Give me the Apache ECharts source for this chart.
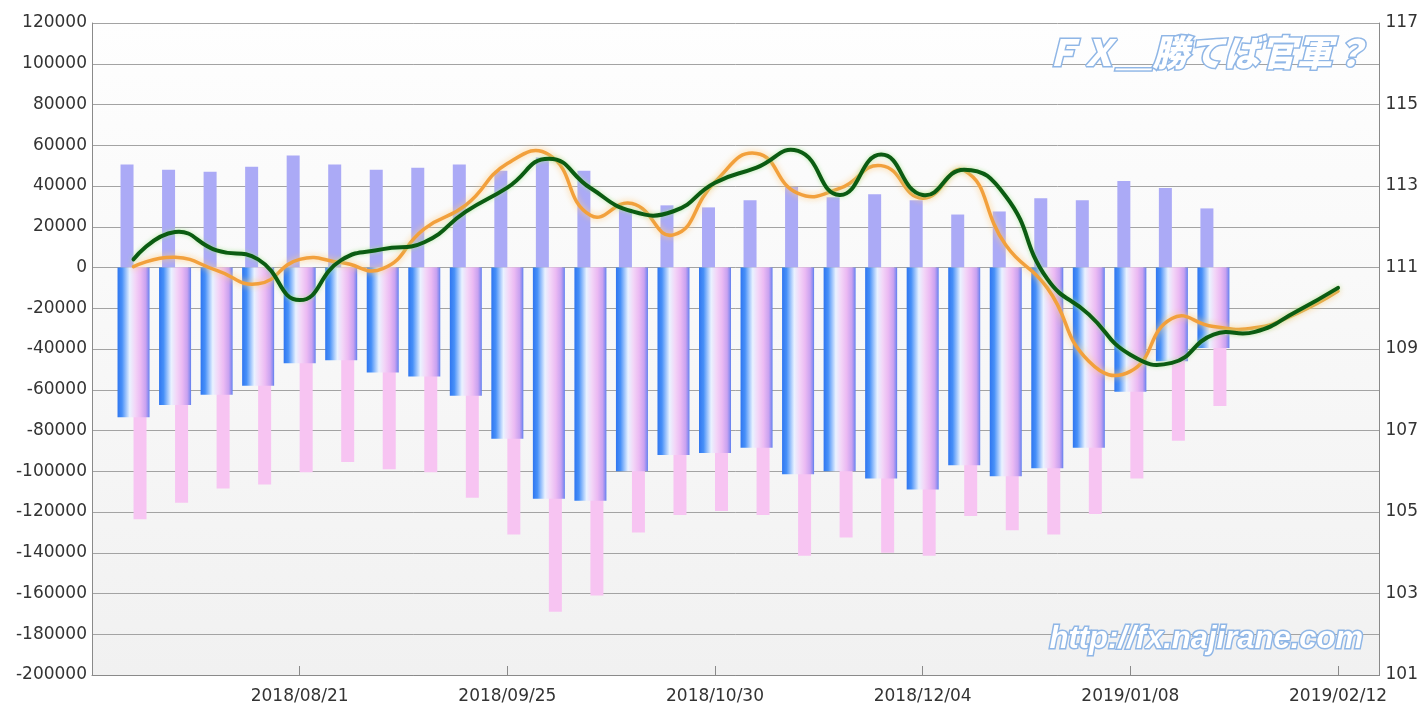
<!DOCTYPE html>
<html><head><meta charset="utf-8">
<script src="https://cdn.jsdelivr.net/npm/echarts@6.0.0/dist/echarts.min.js"></script>
<style>html,body{margin:0;padding:0;background:#fff;}#c{width:1421px;height:706px;}</style>
</head><body><div id="c"></div>
<script>
// ---- data ----
const barDates = ['2018/07/24','2018/07/31','2018/08/07','2018/08/14','2018/08/21','2018/08/28','2018/09/04','2018/09/11','2018/09/18','2018/09/25','2018/10/02','2018/10/09','2018/10/16','2018/10/23','2018/10/30','2018/11/06','2018/11/13','2018/11/20','2018/11/27','2018/12/04','2018/12/11','2018/12/18','2018/12/25','2019/01/01','2019/01/08','2019/01/15','2019/01/22'];
const lineDates = ['2018/07/24','2018/07/31','2018/08/07','2018/08/14','2018/08/21','2018/08/28','2018/09/04','2018/09/11','2018/09/18','2018/09/25','2018/10/02','2018/10/09','2018/10/16','2018/10/23','2018/10/30','2018/11/06','2018/11/13','2018/11/20','2018/11/27','2018/12/04','2018/12/11','2018/12/18','2018/12/25','2019/01/01','2019/01/08','2019/01/15','2019/01/22','2019/01/29','2019/02/05','2019/02/12'];
const longPos  = [50500,48000,47000,49500,55000,50500,48000,49000,50500,47500,54000,47500,28500,30500,29500,33000,39500,34500,36000,33000,26000,27500,34000,33000,42500,39000,29000];
const shortPos = [-123500,-115500,-108500,-106500,-100500,-95500,-99000,-100500,-113000,-131000,-169000,-161000,-130000,-121500,-119500,-121500,-141500,-132500,-140000,-141500,-122000,-129000,-131000,-121000,-103500,-85000,-68000];
const netPos   = [-73500,-67500,-62500,-58000,-47000,-45500,-51500,-53500,-63000,-84000,-113500,-114500,-100000,-92000,-91000,-88500,-101500,-100000,-103500,-109000,-97000,-102500,-98500,-88500,-61000,-46000,-39500];
const priceGreen  = [111.2,111.87,111.42,111.2,110.2,111.18,111.45,111.62,112.37,112.96,113.67,112.95,112.38,112.38,113.08,113.45,113.86,112.78,113.77,112.78,113.4,112.75,110.72,109.85,108.86,108.66,109.35,109.42,109.92,110.5];
const priceOrange = [111.02,111.25,110.93,110.6,111.2,111.12,110.97,111.95,112.53,113.55,113.77,112.28,112.57,111.8,113.1,113.8,112.82,112.94,113.5,112.7,113.38,111.55,110.5,108.7,108.45,109.75,109.55,109.52,109.87,110.42];
const axisStart = '2018/07/17', axisEnd = '2019/02/19';
const leftMin = -200000, leftMax = 120000, leftStep = 20000;
const rightMin = 101, rightMax = 117, rightStep = 2;
const watermark1 = 'ＦＸ＿勝てば官軍？';
const watermark2 = 'http://fx.najirane.com';

function ts(s){const p=s.split('/');return Date.UTC(+p[0],+p[1]-1,+p[2]);}
function fmt(v){const d=new Date(v);const m=d.getUTCMonth()+1, dd=d.getUTCDate();return d.getUTCFullYear()+'/'+(m<10?'0':'')+m+'/'+(dd<10?'0':'')+dd;}
const pair=(dates,vals)=>dates.map((d,i)=>[ts(d),vals[i]]);
const WEEK5 = 35*86400000;
const labelFont = {fontFamily:'DejaVu Sans', fontSize:17, color:'#333'};
const gridColor = '#a3a3a3';

function splineSeries(name, dates, vals, color, width, shColor, shBlur, z){
  return {type:'custom', name, xAxisIndex:0, yAxisIndex:1, z, data:pair(dates,vals), encode:{x:0,y:1}, silent:true,
    renderItem:function(params, api){
      if(params.dataIndex!==0) return null;
      const pts = dates.map((d,i)=>api.coord([ts(d), vals[i]]));
      return {type:'polyline', shape:{points:pts, smooth:0.5},
        style:{fill:'none', stroke:color, lineWidth:width, lineJoin:'round', lineCap:'round', shadowColor:shColor, shadowBlur:shBlur}};
    }};
}

const chart = echarts.init(document.getElementById('c'));
chart.setOption({
  animation:false,
  backgroundColor:'#ffffff',
  grid:{left:92,right:41,top:23,bottom:31,show:true,borderWidth:0,
    backgroundColor:{type:'linear',x:0,y:0,x2:0,y2:1,colorStops:[{offset:0,color:'#fefefe'},{offset:1,color:'#f1f1f1'}]}},
  xAxis:[
    {type:'value',min:ts(axisStart),max:ts(axisEnd),interval:WEEK5,
     axisLine:{show:true,onZero:false,lineStyle:{color:'#8a8a8a'}},
     axisTick:{show:true,inside:true,length:9,lineStyle:{color:'#8a8a8a'}},
     splitLine:{show:false},
     axisLabel:Object.assign({formatter:fmt,margin:13,showMinLabel:false,showMaxLabel:false},labelFont)},
    {type:'value',min:ts(axisStart),max:ts(axisEnd),show:false,splitLine:{show:false}}
  ],
  yAxis:[
    {type:'value',min:leftMin,max:leftMax,interval:leftStep,
     axisLine:{show:true,lineStyle:{color:'#8a8a8a'}},axisTick:{show:false},
     splitLine:{show:true,lineStyle:{color:gridColor,width:1}},
     axisLabel:Object.assign({margin:5,formatter:v=>String(v)},labelFont)},
    {type:'value',min:rightMin,max:rightMax,interval:rightStep,position:'right',
     axisLine:{show:true,lineStyle:{color:'#8a8a8a'}},axisTick:{show:false},
     splitLine:{show:false},
     axisLabel:Object.assign({margin:6},labelFont)}
  ],
  series:[
    {type:'bar',name:'long',xAxisIndex:0,yAxisIndex:0,data:pair(barDates,longPos),barWidth:13,barGap:'0%',z:2,
     itemStyle:{color:'#abaaf6'}},
    {type:'bar',name:'short',xAxisIndex:0,yAxisIndex:0,data:pair(barDates,shortPos),barWidth:13,barGap:'0%',z:2,
     itemStyle:{color:'#f7c4f2'}},
    {type:'bar',name:'net',xAxisIndex:1,yAxisIndex:0,data:pair(barDates,netPos),barWidth:32,z:3,
     itemStyle:{color:{type:'linear',x:0,y:0,x2:1,y2:0,colorStops:[
       {offset:0,color:'#2f76f0'},{offset:0.14,color:'#4790f8'},{offset:0.38,color:'#e9f2ff'},
       {offset:0.55,color:'#f3d5f7'},{offset:0.72,color:'#ebbaf3'},{offset:0.88,color:'#c9a2f0'},
       {offset:0.96,color:'#8b8cf0'},{offset:1,color:'#5a7ff0'}]}}},
    splineSeries('orange', lineDates, priceOrange, '#f2a03c', 3.5, 'rgba(255,205,130,0.95)', 6, 6),
    splineSeries('green', lineDates, priceGreen, '#0b5c12', 4, 'rgba(170,230,150,0.8)', 4, 7)
  ],
  graphic:[
    {type:'text',left:1043,top:33,z:100,style:{text:watermark1,font:'italic 900 36px "Noto Sans CJK JP"',fill:'#ffffff',
      stroke:'#8fb6e6',lineWidth:3,strokeFirst:true,shadowColor:'#7fb2f0',shadowBlur:14}},
    {type:'text',left:1048,top:622,z:100,style:{text:watermark2,font:'italic bold 31px "Liberation Sans"',fill:'#ffffff',
      stroke:'#8fb6e6',lineWidth:3,strokeFirst:true,shadowColor:'#7fb2f0',shadowBlur:14}}
  ]
});
</script></body></html>
